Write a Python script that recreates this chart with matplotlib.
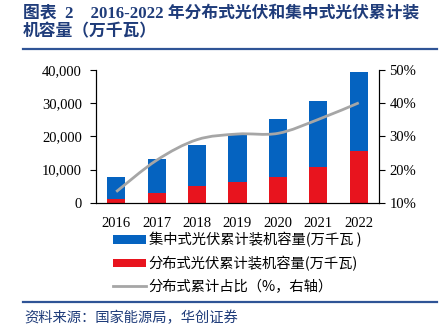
import matplotlib.pyplot as plt
import numpy as np
from matplotlib.path import Path
from matplotlib.patches import PathPatch, Patch
from matplotlib.lines import Line2D
from matplotlib.ticker import FuncFormatter

plt.rcParams['font.family'] = ['Liberation Serif', 'Noto Sans CJK SC']

years = ['2016', '2017', '2018', '2019', '2020', '2021', '2022']
distributed = [1032, 2966, 5061, 6263, 7831, 10751, 15600]
centralized = [6710, 10059, 12384, 14167, 17425, 19905, 23700]
share = [0.133, 0.228, 0.290, 0.307, 0.309, 0.351, 0.401]

title = '图表  2    2016-2022 年分布式光伏和集中式光伏累计装\n机容量（万千瓦）'
labels = ['集中式光伏累计装机容量(万千瓦 )',
          '分布式光伏累计装机容量(万千瓦)',
          '分布式累计占比（%，右轴）']
source = '资料来源：国家能源局，华创证券'

BLUE = '#0563C0'
RED = '#E8141E'
GRAY = '#A6A6A6'
NAVY = '#1F3C7A'
CJK = ['Noto Sans CJK SC', 'Liberation Serif']


def smooth_path(x, y):
    """Catmull-Rom curve through the points, as cubic Bezier segments."""
    pts = np.column_stack([x, y])
    ext = np.vstack([pts[0], pts, pts[-1]])
    verts = [pts[0]]
    codes = [Path.MOVETO]
    for i in range(len(pts) - 1):
        p0, p1, p2, p3 = ext[i], ext[i + 1], ext[i + 2], ext[i + 3]
        verts += [p1 + (p2 - p0) / 6, p2 - (p3 - p1) / 6, p2]
        codes += [Path.CURVE4] * 3
    return Path(verts, codes)


fig = plt.figure(figsize=(4.43, 3.33), dpi=100)
ax = fig.add_axes([0.2167, 0.3913, 0.6388, 0.3985])

x = np.arange(len(years))
ax.bar(x, distributed, width=0.45, color=RED, zorder=2)
ax.bar(x, centralized, width=0.45, bottom=distributed, color=BLUE, zorder=2)
ax.set_ylim(0, 40000)
ax.set_yticks(range(0, 40001, 10000))
ax.yaxis.set_major_formatter(FuncFormatter(lambda v, p: f'{int(v):,}'))
ax.set_xlim(-0.5, len(years) - 0.5)
ax.set_xticks(x)
ax.set_xticklabels(years)
ax.tick_params(axis='x', length=0, pad=10, labelsize=10.5)
ax.tick_params(axis='y', length=4, width=0.8, labelsize=10.5, direction='out',
               pad=6)
ax.spines['top'].set_visible(False)
for s in ['left', 'right', 'bottom']:
    ax.spines[s].set_linewidth(0.8)

ax2 = ax.twinx()
ax2.set_ylim(0.1, 0.5)
ax2.set_yticks([0.1, 0.2, 0.3, 0.4, 0.5])
ax2.yaxis.set_major_formatter(FuncFormatter(lambda v, p: f'{v * 100:.0f}%'))
ax2.tick_params(axis='y', length=4, width=0.8, labelsize=10.5, direction='out')
ax2.spines['top'].set_visible(False)
ax2.spines['right'].set_linewidth(0.8)
ax2.add_patch(PathPatch(smooth_path(x, share), facecolor='none',
                        edgecolor=GRAY, lw=2, zorder=3))

fig.text(0.052, 0.985, title, fontsize=12.1, fontweight='bold', color=NAVY,
         va='top', ha='left', linespacing=1.25)
fig.add_artist(Line2D([0.052, 0.987], [0.853, 0.853], color='#2F5496', lw=1.6))
fig.add_artist(Line2D([0.052, 0.987], [0.093, 0.093], color='#2F5496', lw=1.6))
fig.text(0.055, 0.045, source, fontsize=10.3, style='italic', color=NAVY,
         va='center', ha='left', family=CJK)

handles = [Patch(facecolor=BLUE), Patch(facecolor=RED),
           Line2D([], [], color=GRAY, lw=2)]
fig.legend(handles, labels, loc='upper left', bbox_to_anchor=(0.239, 0.324),
           frameon=False, borderpad=0, handlelength=2.3, handleheight=0.5,
           handletextpad=0.2, labelspacing=0.6,
           prop={'family': CJK, 'size': 10.3})

fig.savefig('out.png', dpi=100)
